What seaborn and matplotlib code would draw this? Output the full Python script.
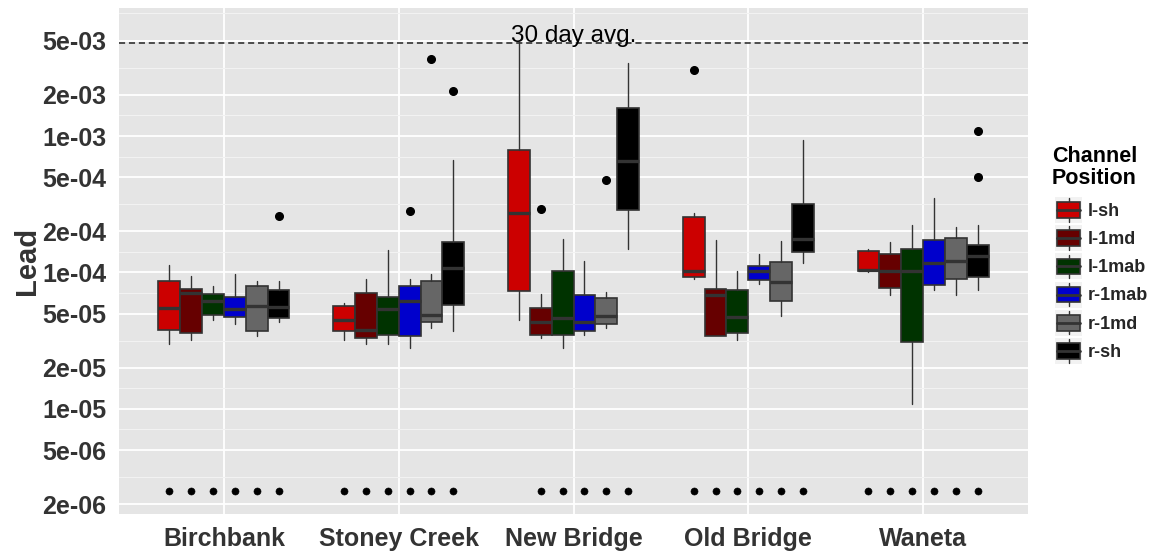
import numpy as np
import pandas as pd
import matplotlib
matplotlib.use("Agg")
import matplotlib.pyplot as plt
from matplotlib.patches import Patch, Rectangle
from matplotlib.lines import Line2D
from matplotlib.legend_handler import HandlerBase
from matplotlib.ticker import NullFormatter, NullLocator
import seaborn as sns

# ---------------------------------------------------------------- data
sites = ["Birchbank", "Stoney Creek", "New Bridge", "Old Bridge", "Waneta"]
positions = ["l-sh", "l-1md", "l-1mab", "r-1mab", "r-1md", "r-sh"]
pos_colors = ["#CC0000", "#660000", "#003300", "#0000CC", "#666666", "#000000"]

# five-number summaries: one row per site, one column per channel position
whisker_low = [
    [3.0e-05, 3.2e-05, 4.5e-05, 4.2e-05, 3.4e-05, 4.3e-05],
    [3.2e-05, 3.0e-05, 3.0e-05, 2.8e-05, 3.9e-05, 3.7e-05],
    [4.5e-05, 3.3e-05, 2.8e-05, 3.5e-05, 3.9e-05, 1.49e-04],
    [9.0e-05, 3.4e-05, 3.2e-05, 8.3e-05, 4.8e-05, 1.17e-04],
    [1.01e-04, 6.8e-05, 1.08e-05, 7.4e-05, 6.8e-05, 7.5e-05],
]
q1 = [
    [3.8e-05, 3.6e-05, 4.9e-05, 4.7e-05, 3.7e-05, 4.6e-05],
    [3.7e-05, 3.3e-05, 3.5e-05, 3.4e-05, 4.3e-05, 5.8e-05],
    [7.3e-05, 3.5e-05, 3.5e-05, 3.7e-05, 4.2e-05, 2.86e-04],
    [9.3e-05, 3.4e-05, 3.6e-05, 8.8e-05, 6.2e-05, 1.42e-04],
    [1.02e-04, 7.7e-05, 3.1e-05, 8.1e-05, 8.9e-05, 9.3e-05],
]
median = [
    [5.5e-05, 7.1e-05, 6.2e-05, 5.4e-05, 5.7e-05, 5.6e-05],
    [4.5e-05, 3.8e-05, 5.4e-05, 6.2e-05, 4.9e-05, 1.08e-04],
    [2.75e-04, 4.3e-05, 4.6e-05, 4.3e-05, 4.8e-05, 6.6e-04],
    [1.03e-04, 6.8e-05, 4.7e-05, 1.02e-04, 8.5e-05, 1.77e-04],
    [1.05e-04, 1.02e-04, 1.02e-04, 1.17e-04, 1.21e-04, 1.33e-04],
]
q3 = [
    [8.6e-05, 7.6e-05, 6.9e-05, 6.6e-05, 7.9e-05, 7.4e-05],
    [5.7e-05, 7.1e-05, 6.6e-05, 7.9e-05, 8.6e-05, 1.67e-04],
    [7.85e-04, 5.5e-05, 1.02e-04, 6.8e-05, 6.5e-05, 1.61e-03],
    [2.55e-04, 7.6e-05, 7.5e-05, 1.11e-04, 1.19e-04, 3.2e-04],
    [1.43e-04, 1.36e-04, 1.48e-04, 1.73e-04, 1.78e-04, 1.6e-04],
]
whisker_high = [
    [1.14e-04, 9.5e-05, 7.9e-05, 9.7e-05, 8.6e-05, 8.6e-05],
    [6.0e-05, 8.9e-05, 1.45e-04, 9.0e-05, 9.7e-05, 6.7e-04],
    [4.9e-03, 6.9e-05, 1.77e-04, 1.21e-04, 7.2e-05, 3.45e-03],
    [2.72e-04, 1.73e-04, 1.03e-04, 1.36e-04, 1.69e-04, 9.35e-04],
    [1.48e-04, 1.66e-04, 2.23e-04, 3.5e-04, 2.17e-04, 2.23e-04],
]

# outlying samples
outlier_site = ["Birchbank", "Stoney Creek", "Stoney Creek", "Stoney Creek",
                "New Bridge", "New Bridge", "Old Bridge", "Waneta", "Waneta"]
outlier_pos = ["r-sh", "r-1mab", "r-1md", "r-sh",
               "l-1md", "r-1md", "l-sh", "r-sh", "r-sh"]
outlier_value = [2.6e-04, 2.84e-04, 3.66e-03, 2.15e-03,
                 2.92e-04, 4.79e-04, 3.04e-03, 1.09e-03, 5.03e-04]

# below-detection samples, shown at the detection floor (1 = present)
nd_present = [
    [1, 1, 1, 1, 1, 1],
    [1, 1, 1, 1, 1, 1],
    [0, 1, 1, 1, 1, 1],
    [1, 1, 1, 1, 1, 1],
    [1, 1, 1, 1, 1, 1],
]
nd_value = 2.5e-06

avg_30day = 4.8e-03
avg_label = "30 day avg."

y_breaks = [2e-06, 5e-06, 1e-05, 2e-05, 5e-05, 1e-04, 2e-04, 5e-04, 1e-03, 2e-03, 5e-03]
y_labels = ["2e-06", "5e-06", "1e-05", "2e-05", "5e-05", "1e-04",
            "2e-04", "5e-04", "1e-03", "2e-03", "5e-03"]

legend_title = "Channel\nPosition"

# ---------------------------------------------------------------- style
sns.set_theme(style="darkgrid", rc={
    "axes.facecolor": "#E5E5E5",
    "figure.facecolor": "white",
    "grid.color": "white",
})
plt.rcParams["font.family"] = ["Liberation Sans", "DejaVu Sans"]

TEXT = "#333333"
EDGE = "#333333"

fig = plt.figure(figsize=(11.66, 5.53), dpi=100)
ax = fig.add_axes([119 / 1166, 1 - 514.3 / 553, (1028 - 119) / 1166, (514.3 - 8) / 553])
ax.set_yscale("log")
ax.set_ylim(1.69e-06, 8.67e-03)
ax.set_xlim(-0.6, len(sites) - 0.4)

# grid: major breaks plus minor lines halfway between them (log space)
lb = np.log10(y_breaks)
minor = list((lb[:-1] + lb[1:]) / 2) + [lb[-1] + (lb[1] - lb[0]) / 2]
ax.set_yticks(y_breaks)
ax.set_yticklabels(y_labels)
ax.set_yticks(10 ** np.array(minor), minor=True)
ax.yaxis.set_minor_formatter(NullFormatter())
ax.xaxis.set_minor_locator(NullLocator())
ax.set_xticks(range(len(sites)))
ax.set_xticklabels(sites)
ax.grid(False)
ax.grid(which="major", color="white", linewidth=1.3)
ax.grid(which="minor", axis="y", color="#F2F2F2", linewidth=0.8)
ax.set_axisbelow(True)
for sp in ax.spines.values():
    sp.set_visible(False)
ax.tick_params(which="major", length=5, width=1, color="#7F7F7F",
               labelsize=18, labelcolor=TEXT, pad=4)
ax.tick_params(which="minor", length=0)
for lab in ax.get_xticklabels() + ax.get_yticklabels():
    lab.set_fontweight("bold")

# ---------------------------------------------------------------- boxes
dodge = 0.75 / len(positions)
stats, xs, cols = [], [], []
for i, s in enumerate(sites):
    for j, p in enumerate(positions):
        fl = [v for os_, op, v in zip(outlier_site, outlier_pos, outlier_value)
              if os_ == s and op == p]
        stats.append(dict(whislo=whisker_low[i][j], q1=q1[i][j], med=median[i][j],
                          q3=q3[i][j], whishi=whisker_high[i][j], fliers=fl))
        xs.append(i + (j - (len(positions) - 1) / 2) * dodge)
        cols.append(pos_colors[j])

ax.axhline(avg_30day, color="#222222", linewidth=1.1, linestyle=(0, (4, 2.5)), zorder=1.5)

art = ax.bxp(stats, positions=xs, widths=dodge, patch_artist=True, showcaps=False,
             manage_ticks=False,
             boxprops=dict(edgecolor=EDGE, linewidth=1.2),
             medianprops=dict(color=EDGE, linewidth=2.4, solid_capstyle="butt"),
             whiskerprops=dict(color=EDGE, linewidth=1.0),
             flierprops=dict(marker="o", markerfacecolor="black", markeredgecolor="black",
                             markersize=5.5))
for b, c in zip(art["boxes"], cols):
    b.set_facecolor(c)

# detection-floor points
nd_rows = []
for i, s in enumerate(sites):
    for j, p in enumerate(positions):
        if nd_present[i][j]:
            nd_rows.append(dict(x=i + (j - (len(positions) - 1) / 2) * dodge,
                                value=nd_value, position=p))
nd_df = pd.DataFrame(nd_rows)
sns.scatterplot(data=nd_df, x="x", y="value", color="black", s=26, marker="o",
                edgecolor="black", legend=False, ax=ax, zorder=3)
ax.set_xlabel("")
ax.set_xlim(-0.6, len(sites) - 0.4)

ax.annotate(avg_label, xy=(2, avg_30day), xytext=(0, 1), textcoords="offset points",
            ha="center", va="baseline", fontsize=17.5, color="black")

ax.set_ylabel("Lead", fontsize=21, fontweight="bold", color=TEXT)
ax.yaxis.set_label_coords((41 - 119) / 909, 0.5)


# ---------------------------------------------------------------- legend
class BoxKeyHandler(HandlerBase):
    def create_artists(self, legend, orig_handle, xdescent, ydescent,
                       width, height, fontsize, trans):
        x0, y0 = -xdescent, -ydescent
        cx = x0 + width / 2
        bw, bh = width * 0.84, height * 0.6
        bg = Rectangle((x0, y0), width, height, facecolor="#F2F2F2",
                       edgecolor="none", transform=trans)
        wk = Line2D([cx, cx], [y0 + height * 0.05, y0 + height * 0.95],
                    color=EDGE, lw=1.0, transform=trans)
        box = Rectangle((cx - bw / 2, y0 + (height - bh) / 2), bw, bh,
                        facecolor=orig_handle.get_facecolor(), edgecolor=EDGE,
                        lw=1.2, transform=trans)
        med = Line2D([cx - bw / 2, cx + bw / 2], [y0 + height / 2] * 2,
                     color=EDGE, lw=2.0, transform=trans)
        return [bg, wk, box, med]


fig.text(1052 / 1166, 1 - 146 / 553, legend_title, ha="left", va="top",
         fontsize=15.5, fontweight="bold", color="black", linespacing=1.05)

handles = [Patch(facecolor=c, label=p) for p, c in zip(positions, pos_colors)]
fig.legend(handles=handles, labels=positions, loc="upper left",
           bbox_to_anchor=(1055 / 1166, 1 - 197 / 553), frameon=False,
           prop={"weight": "bold", "size": 13},
           handlelength=1.5, handleheight=1.84, labelspacing=0.12,
           handletextpad=0.3, borderpad=0, borderaxespad=0,
           handler_map={Patch: BoxKeyHandler()})

fig.savefig("out.png", dpi=100)
